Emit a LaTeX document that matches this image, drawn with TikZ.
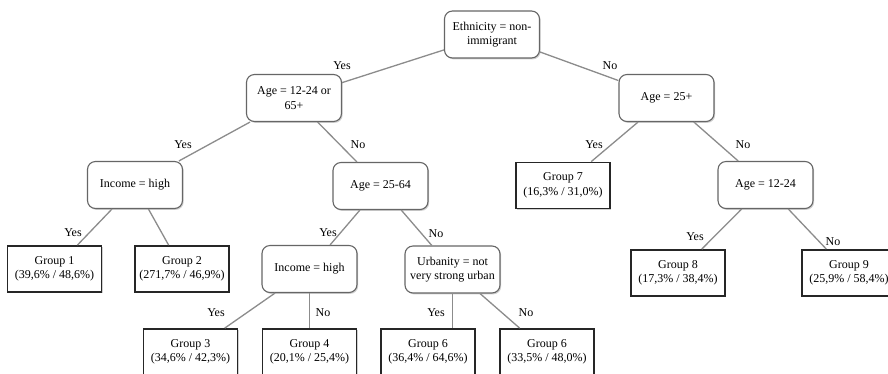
\documentclass[tikz,border=0pt]{standalone}
\usepackage{fontspec}
\setmainfont{Liberation Serif}
\usetikzlibrary{shadows}
\begin{document}
\begin{tikzpicture}[x=1pt,y=-1pt,
  every node/.style={font=\fontsize{12}{14.5}\selectfont, align=center, inner sep=0pt},
  decision/.style={draw=black!60, line width=1.1pt, fill=white, rounded corners=8pt,
    minimum width=95pt, minimum height=47pt,
    drop shadow={shadow xshift=1.2pt, shadow yshift=-1.4pt, opacity=0.3, fill=black!60}},
  leaf/.style={draw=black!85, line width=1.8pt, fill=white,
    minimum width=94pt, minimum height=46pt,
    drop shadow={shadow xshift=1.2pt, shadow yshift=-1.4pt, opacity=0.3, fill=black!60}},
  conn/.style={draw=black!45, line width=1.3pt},
  lbl/.style={font=\fontsize{12}{14}\selectfont}]
\useasboundingbox (0,0) rectangle (888,373);
\fill[white] (0,0) rectangle (888,373);

% connectors first (behind nodes) -- use coordinates of node centers
\begin{scope}[every node/.style={font=\fontsize{12}{14.5}\selectfont, align=center, inner sep=0pt}]
\end{scope}

% nodes
\node[decision] (root) at (492,34.5) {Ethnicity = non-\\immigrant};
\node[decision] (a1) at (294,98) {Age = 12-24 or\\65+};
\node[decision] (a2) at (666.5,98) {Age = 25+};
\node[decision] (inc1) at (135,185) {Income = high};
\node[decision] (a3) at (380.5,186) {Age = 25-64};
\node[decision] (a4) at (765.5,185) {Age = 12-24};
\node[leaf] (g7) at (563,185.5) {Group 7\\(16,3\% / 31,0\%)};
\node[leaf] (g1) at (54.5,269) {Group 1\\(39,6\% / 48,6\%)};
\node[leaf] (g2) at (182,269) {Group 2\\(271,7\% / 46,9\%)};
\node[decision] (inc2) at (309.5,269) {Income = high};
\node[decision] (urb) at (452.5,269.5) {Urbanity = not\\very strong urban};
\node[leaf] (g8) at (678,273) {Group 8\\(17,3\% / 38,4\%)};
\node[leaf] (g9) at (849,273) {Group 9\\(25,9\% / 58,4\%)};
\node[leaf] (g3) at (190.5,352) {Group 3\\(34,6\% / 42,3\%)};
\node[leaf] (g4) at (309.5,352) {Group 4\\(20,1\% / 25,4\%)};
\node[leaf] (g6a) at (428,352) {Group 6\\(36,4\% / 64,6\%)};
\node[leaf] (g6b) at (547,352) {Group 6\\(33,5\% / 48,0\%)};

% connectors
\draw[conn] (root) -- (a1);
\draw[conn] (root) -- (a2);
\draw[conn] (a1) -- (inc1);
\draw[conn] (a1) -- (a3);
\draw[conn] (a2) -- (g7);
\draw[conn] (a2) -- (a4);
\draw[conn] (inc1) -- (g1);
\draw[conn] (inc1) -- (g2);
\draw[conn] (a3) -- (inc2);
\draw[conn] (a3) -- (urb);
\draw[conn] (a4) -- (g8);
\draw[conn] (a4) -- (g9);
\draw[conn] (inc2) -- (g3);
\draw[conn] (inc2.south) -- (inc2.south |- g4.north);
\draw[conn] (urb.south) -- (urb.south |- g6a.north);
\draw[conn] (urb) -- (g6b);

% labels
\node[lbl] (l1) at (342,66) {Yes};
\node[lbl] (l2) at (610,66) {No};
\node[lbl] (l3) at (183,145) {Yes};
\node[lbl] (l4) at (358,145) {No};
\node[lbl] (l5) at (594,145) {Yes};
\node[lbl] (l6) at (743,145) {No};
\node[lbl] (l7) at (73,233) {Yes};
\node[lbl] (l8) at (328,233) {Yes};
\node[lbl] (l9) at (436,234) {No};
\node[lbl] (l10) at (695,237) {Yes};
\node[lbl] (l11) at (833,242) {No};
\node[lbl] (l12) at (216,313) {Yes};
\node[lbl] (l13) at (323,313) {No};
\node[lbl] (l14) at (436,313) {Yes};
\node[lbl] (l15) at (526,313) {No};
\end{tikzpicture}
\end{document}
